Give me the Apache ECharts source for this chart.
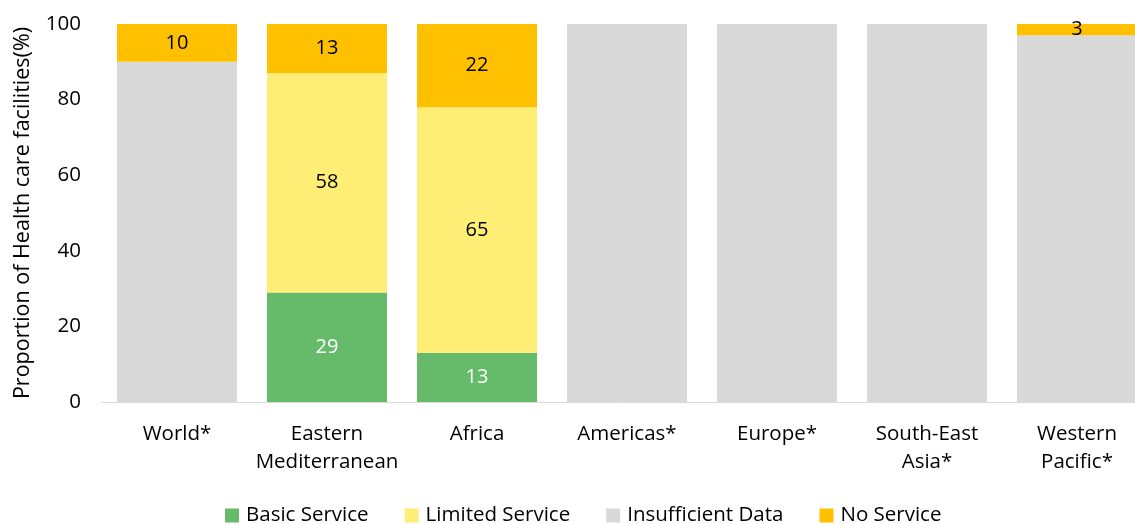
<!DOCTYPE html>
<html><head><meta charset="utf-8">
<script src="https://cdn.jsdelivr.net/npm/echarts@6/dist/echarts.min.js"></script>
<style>html,body{margin:0;padding:0;background:#fff}#c{width:1135px;height:524px}</style>
</head><body><div id="c"></div>
<script>
const categories = ['World*', 'Eastern\nMediterranean', 'Africa', 'Americas*', 'Europe*', 'South-East\nAsia*', 'Western\nPacific*'];
const basicService = [0, 29, 13, 0, 0, 0, 0];
const limitedService = [0, 58, 65, 0, 0, 0, 0];
const insufficientData = [90, 0, 0, 100, 100, 100, 97];
const noService = [10, 13, 22, 0, 0, 0, 3];
const yTicks = [0, 20, 40, 60, 80, 100];

const font = '"Open Sans", sans-serif';
function mk(name, data, color, labelColor, showLabel) {
  return {
    name, type: 'bar', stack: 'a', data, barWidth: 120,
    itemStyle: { color },
    label: {
      show: showLabel, position: 'inside', color: labelColor, fontSize: 20, fontFamily: font,
      formatter: p => p.value ? p.value : ''
    }
  };
}
const chart = echarts.init(document.getElementById('c'));
chart.setOption({
  animation: false,
  grid: { left: 102, top: 24, right: -17, bottom: 122, containLabel: false, outerBoundsMode: 'none' },
  legend: {
    bottom: -7, left: 220, itemWidth: 14, itemHeight: 14, itemGap: 36,
    icon: 'rect',
    textStyle: { fontSize: 20.5, fontFamily: font, color: '#000', padding: [0, 0, 0, 2] },
    data: ['Basic Service', 'Limited Service', 'Insufficient Data', 'No Service']
  },
  xAxis: {
    type: 'category', data: categories,
    axisLine: { lineStyle: { color: '#d9d9d9', width: 1 } },
    axisTick: { show: false },
    axisLabel: { fontSize: 20.5, fontFamily: font, color: '#000', margin: 18, lineHeight: 28, interval: 0 }
  },
  yAxis: {
    type: 'value', min: 0, max: 100, interval: 20,
    name: 'Proportion of Health care facilities(%)', nameLocation: 'middle', nameGap: 68,
    nameTextStyle: { fontSize: 21.5, fontFamily: font, color: '#000' },
    axisLine: { show: false }, axisTick: { show: false }, splitLine: { show: false },
    axisLabel: { fontSize: 20.5, fontFamily: font, color: '#000', margin: 21,
      formatter: v => yTicks.includes(v) ? String(v) : '' }
  },
  series: [
    mk('Basic Service', basicService, '#66bb6a', '#fff', true),
    mk('Limited Service', limitedService, '#ffee75', '#000', true),
    mk('Insufficient Data', insufficientData, '#d9d9d9', '#000', false),
    mk('No Service', noService, '#ffc000', '#000', true)
  ]
});
</script></body></html>
